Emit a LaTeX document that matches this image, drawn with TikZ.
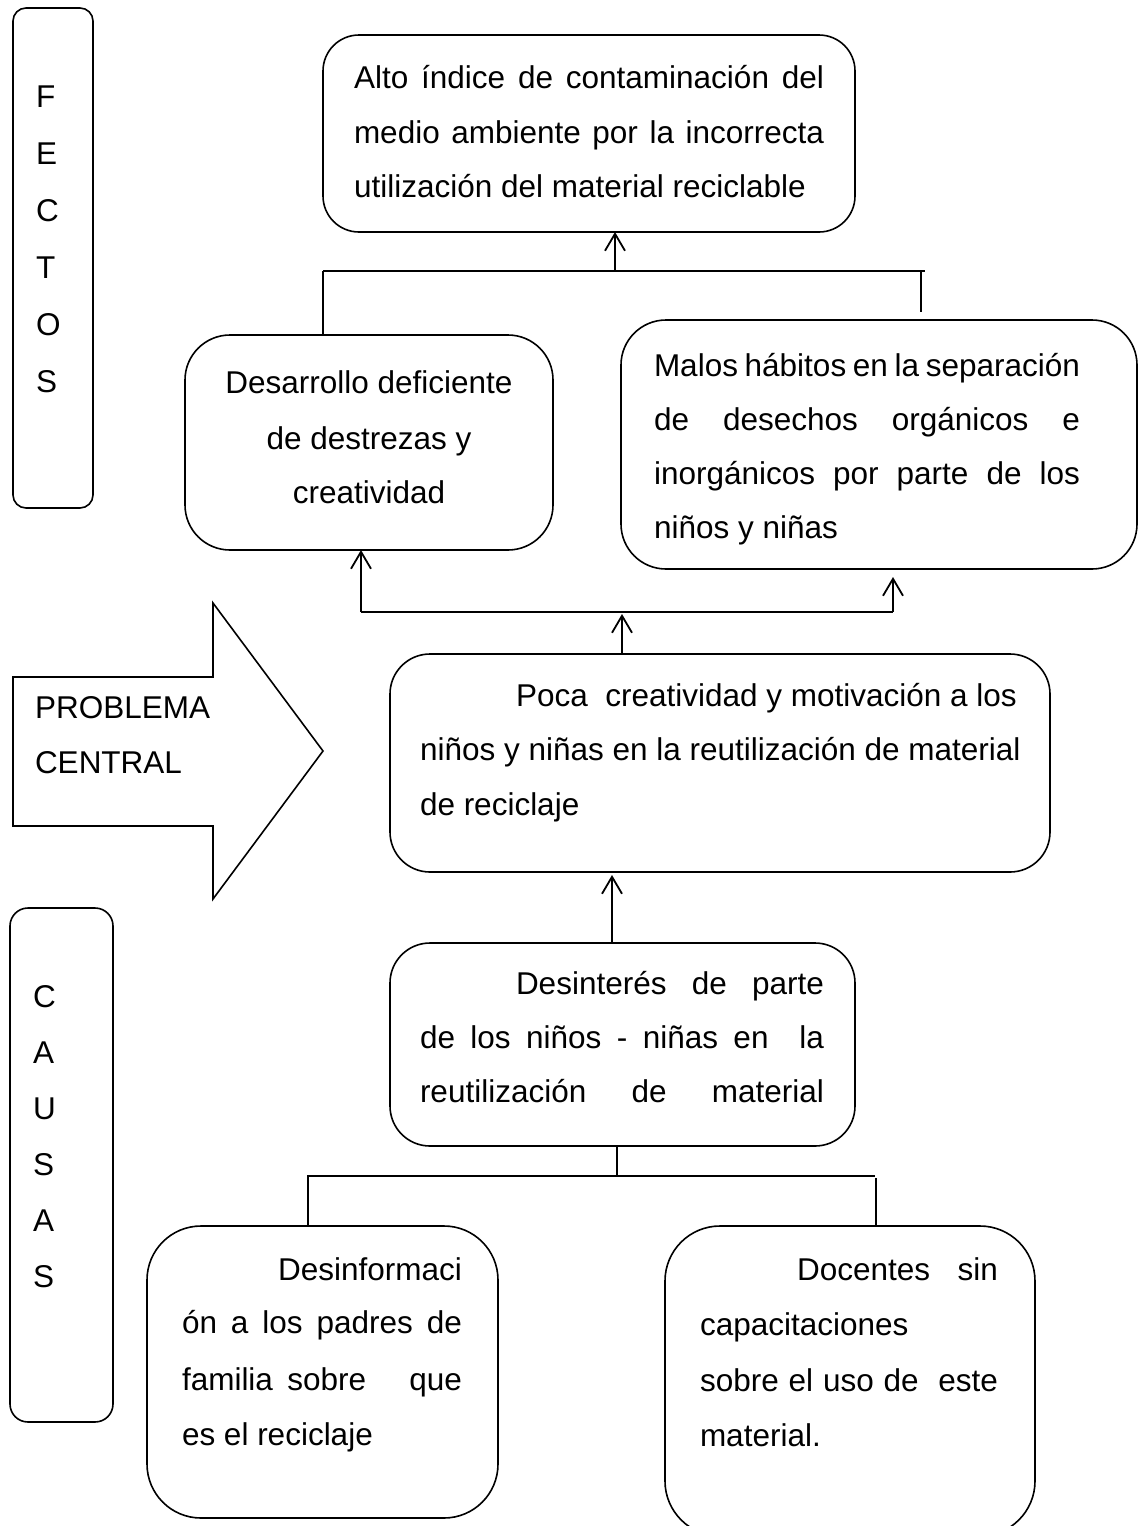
\documentclass[tikz,border=0pt]{standalone}
\usepackage{fontspec}
\setmainfont{Liberation Sans}
\usetikzlibrary{arrows.meta}
\tikzset{
  boxn/.style={draw, line width=0.8pt, inner sep=0pt, outer sep=0pt},
  txt/.style={inner sep=0pt, outer sep=0pt, anchor=base west, font=\fontsize{15.75}{18}\selectfont},
  txtc/.style={txt, anchor=base},
  txte/.style={txt, anchor=base east},
  lin/.style={line width=0.9pt},
  arr/.style={line width=0.9pt, -{Straight Barb[length=8.5pt,width=10pt,line width=0.9pt]}}
}
\begin{document}
\begin{tikzpicture}[x=0.5pt,y=-0.5pt]
\clip (0,0) rectangle (1139,1526);
\fill[white] (0,0) rectangle (1139,1526);

% side boxes
\node[boxn, rounded corners=6.5pt, minimum width=40pt, minimum height=250pt] (fect) at (53,258) {};
\node[boxn, rounded corners=9pt, minimum width=51.5pt, minimum height=257pt] (causas) at (61.5,1165) {};
\foreach \l [count=\i from 0] in {F,E,C,T,O,S}
  \node[txt] (fl\i) at (36,107+57*\i) {\l};
\foreach \l [count=\i from 0] in {C,A,U,S,A,S}
  \node[txt] (cl\i) at (33,1007+56*\i) {\l};

% big arrow
\draw[line width=0.8pt] (13,677) -- (213,677) -- (213,603) -- (323,751) -- (213,899) -- (213,826) -- (13,826) -- cycle;
\node[txt] (pb1) at (35,718) {PROBLEMA};
\node[txt] (pb2) at (35,773) {CENTRAL};

% boxes
\node[boxn, rounded corners=18pt, minimum width=266pt, minimum height=98.5pt] (top) at (589,133.5) {};
\node[boxn, rounded corners=22.5pt, minimum width=184pt, minimum height=107.5pt] (effL) at (369,442.5) {};
\node[boxn, rounded corners=22.5pt, minimum width=258pt, minimum height=124.5pt] (effR) at (879,444.5) {};
\node[boxn, rounded corners=20pt, minimum width=330pt, minimum height=109pt] (cen) at (720,763) {};
\node[boxn, rounded corners=20pt, minimum width=232.5pt, minimum height=101.5pt] (cau) at (622.5,1044.5) {};
\node[boxn, rounded corners=27pt, minimum width=175.5pt, minimum height=146pt] (bl) at (322.5,1372) {};
\node[boxn, rounded corners=27.5pt, minimum width=185pt, minimum height=155pt] (br) at (850,1381) {};

% texts
\node[txt] (t1) at (354,88) {\makebox[235pt][s]{Alto índice de contaminación del}};
\node[txt] (t2) at (354,143) {\makebox[235pt][s]{medio ambiente por la incorrecta}};
\node[txt] (t3) at (354,197) {utilización del material reciclable};

\node[txtc] (l1) at (369,393) {Desarrollo deficiente};
\node[txtc] (l2) at (369,449) {de destrezas y};
\node[txtc] (l3) at (369,503) {creatividad};

\node[txt] (r1) at (654,376) {\makebox[213pt][s]{Malos hábitos en la separación}};
\node[txt] (r2) at (654,430) {\makebox[213pt][s]{de desechos orgánicos e}};
\node[txt] (r3) at (654,484) {\makebox[213pt][s]{inorgánicos por parte de los}};
\node[txt] (r4) at (654,538) {niños y niñas};

\node[txt] (c1) at (516,706) {Poca\ \ creatividad y motivación a los};
\node[txt] (c2) at (420,760) {niños y niñas en la reutilización de material};
\node[txt] (c3) at (420,815) {de reciclaje};

\node[txt] (d1) at (516,994) {\makebox[154pt][s]{Desinterés de parte}};
\node[txt] (d2) at (420,1048) {\makebox[202pt][s]{de los niños - niñas en\ \ la}};
\node[txt] (d3) at (420,1102) {\makebox[202pt][s]{reutilización de material}};

\node[txte] (e1) at (462,1280) {Desinformaci};
\node[txt] (e2) at (182,1333) {\makebox[140pt][s]{ón a los padres de}};
\node[txt] (e3) at (182,1390) {\makebox[140pt][s]{familia sobre\ \ \ que}};
\node[txt] (e4) at (182,1445) {es el reciclaje};

\node[txt] (f1) at (797,1280) {\makebox[100.5pt][s]{Docentes\ \ sin}};
\node[txt] (f2) at (700,1335) {capacitaciones};
\node[txt] (f3) at (700,1391) {\makebox[149pt][s]{sobre el uso de\ \ este}};
\node[txt] (f4) at (700,1446) {material.};

% upper connectors
\coordinate (j1) at (615,271);
\coordinate (j1L) at (323,271);
\coordinate (j1R) at (925,271);
\coordinate (j1Rt) at (921,271);
\coordinate (j1Rd) at (921,312);
\draw[arr] (j1) -- (j1 |- top.south);
\draw[lin] (j1L) -- (j1R);
\draw[lin] (j1L) -- (j1L |- effL.north);
\draw[lin] (j1Rt) -- (j1Rd);

% middle connectors
\coordinate (j2L) at (361,612);
\coordinate (j2R) at (893,612);
\coordinate (j2C) at (622,614);
\coordinate (j2Rt) at (893,577);
\draw[lin] (j2L) -- (j2R);
\draw[arr] (j2L) -- (j2L |- effL.south);
\draw[arr] (j2R) -- (j2Rt);
\draw[arr] (j2C |- cen.north) -- (j2C);

% cause to central
\coordinate (j3) at (612,943);
\coordinate (j3t) at (612,875);
\draw[arr] (j3) -- (j3t);

% lower tree
\coordinate (j4) at (617,1176);
\coordinate (j4L) at (307,1176);
\coordinate (j4R) at (875,1176);
\coordinate (j4Ld) at (308,1176);
\coordinate (j4Rd) at (876,1178);
\draw[lin] (j4 |- cau.south) -- (j4);
\draw[lin] (j4L) -- (j4R);
\draw[lin] (j4Ld) -- (j4Ld |- bl.north);
\draw[lin] (j4Rd) -- (j4Rd |- br.north);
\end{tikzpicture}
\end{document}
